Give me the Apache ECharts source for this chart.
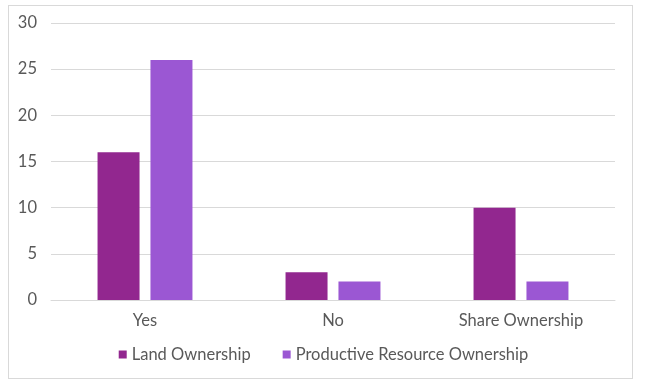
<!DOCTYPE html>
<html><head><meta charset="utf-8">
<script src="https://cdn.jsdelivr.net/npm/echarts@6/dist/echarts.min.js"></script>
<style>html,body{margin:0;padding:0;background:#fff}#c{width:647px;height:389px}
#frame{position:absolute;left:8px;top:5px;width:625px;height:374px;border:1px solid #d9d9d9;box-sizing:border-box;pointer-events:none}</style>
</head><body><div id="c"></div><div id="frame"></div>
<script>
const categories = ['Yes', 'No', 'Share Ownership'];
const landOwnership = [16, 3, 10];
const productiveOwnership = [26, 2, 2];
const yTicks = [0, 5, 10, 15, 20, 25, 30];

const chart = echarts.init(document.getElementById('c'));
const font = 'Lato, "DejaVu Sans", sans-serif';
chart.setOption({
  animation: false,
  textStyle: {fontFamily: font},
  grid: {left: 51, right: 32, top: 23, bottom: 89},
  legend: {
    bottom: 21, left: 'center', itemWidth: 8, itemHeight: 8, itemGap: 32,
    icon: 'rect',
    textStyle: {color: '#595959', fontSize: 16.5, fontFamily: font},
    data: ['Land Ownership', 'Productive Resource Ownership']
  },
  xAxis: {
    type: 'category', data: categories,
    axisLine: {lineStyle: {color: '#d9d9d9'}},
    axisTick: {show: false},
    axisLabel: {color: '#595959', fontSize: 16.5, margin: 12, fontFamily: font}
  },
  yAxis: {
    type: 'value', min: yTicks[0], max: yTicks[yTicks.length - 1], interval: 5,
    axisLine: {show: false}, axisTick: {show: false},
    splitLine: {lineStyle: {color: '#d9d9d9'}},
    axisLabel: {color: '#595959', fontSize: 16.5, margin: 14, fontFamily: font}
  },
  series: [
    {name: 'Land Ownership', type: 'bar', data: landOwnership, barWidth: 42, barGap: '26%', itemStyle: {color: '#92278F'}},
    {name: 'Productive Resource Ownership', type: 'bar', data: productiveOwnership, barWidth: 42, barGap: '26%', itemStyle: {color: '#9B57D3'}}
  ]
});
</script></body></html>
